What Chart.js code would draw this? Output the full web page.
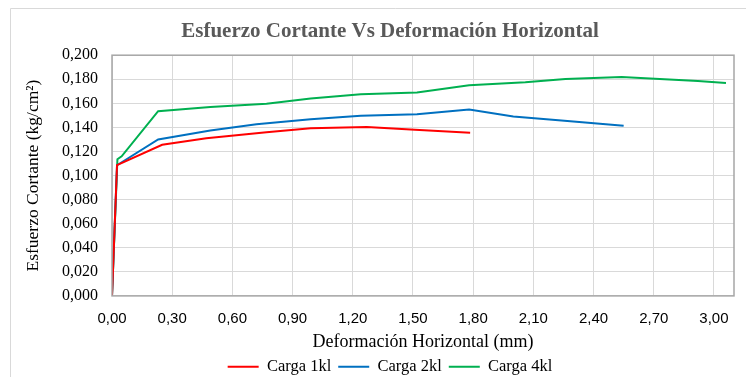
<!DOCTYPE html>
<html>
<head>
<meta charset="utf-8">
<script src="https://cdn.jsdelivr.net/npm/chart.js@4"></script>
<style>
  html, body { margin: 0; padding: 0; background: #fff; overflow: hidden; }
  #wrap { position: absolute; left: 0; top: 0; width: 780px; height: 400px; }
</style>
</head>
<body>
<div id="wrap"><canvas id="grafico" width="780" height="400"></canvas></div>
<script>
const seriesNames = ['Carga 1kl', 'Carga 2kl', 'Carga 4kl'];
const seriesColors = ['#ff0000', '#0070c0', '#00b050'];

const xCarga1 = [0, 0.025, 0.25, 0.47, 0.77, 0.99, 1.27, 1.51, 1.785];
const yCarga1 = [0, 0.1086, 0.1256, 0.131, 0.136, 0.1394, 0.1403, 0.138, 0.1356];

const xCarga2 = [0, 0.025, 0.23, 0.49, 0.72, 0.99, 1.24, 1.52, 1.78, 2.0, 2.24, 2.55];
const yCarga2 = [0, 0.1086, 0.13, 0.1375, 0.1427, 0.1467, 0.1497, 0.151, 0.1548, 0.149, 0.1458, 0.1414];

const xCarga4 = [0, 0.027, 0.048, 0.23, 0.49, 0.77, 0.99, 1.24, 1.52, 1.78, 2.06, 2.26, 2.54, 2.92, 3.06];
const yCarga4 = [0, 0.1135, 0.116, 0.1535, 0.157, 0.1597, 0.164, 0.1675, 0.169, 0.175, 0.1775, 0.1802, 0.1819, 0.1786, 0.177];

function puntos(xs, ys) {
  return xs.map((x, i) => ({ x: x, y: ys[i] }));
}

// marco exterior (solo lados visibles) y borde del area de trazado
const bordes = {
  id: 'bordes',
  beforeDraw(chart) {
    const ctx = chart.ctx;
    ctx.save();
    ctx.strokeStyle = '#d9d9d9';
    ctx.lineWidth = 1;
    ctx.beginPath();
    ctx.moveTo(10.5, 400);
    ctx.lineTo(10.5, 8.5);
    ctx.lineTo(780, 8.5);
    ctx.stroke();
    ctx.restore();
  },
  afterDatasetsDraw(chart) {
    const a = chart.chartArea;
    const ctx = chart.ctx;
    ctx.save();
    ctx.strokeStyle = '#a6a6a6';
    ctx.lineWidth = 1.5;
    ctx.strokeRect(a.left, a.top, a.right - a.left, a.bottom - a.top);
    ctx.restore();
  }
};

const serif = 'Liberation Serif';
const sans = 'Liberation Sans';

new Chart(document.getElementById('grafico'), {
  type: 'scatter',
  data: {
    datasets: [
      { label: seriesNames[0], data: puntos(xCarga1, yCarga1) },
      { label: seriesNames[1], data: puntos(xCarga2, yCarga2) },
      { label: seriesNames[2], data: puntos(xCarga4, yCarga4) }
    ].map((d, i) => Object.assign(d, {
      showLine: true,
      borderColor: seriesColors[i],
      backgroundColor: seriesColors[i],
      borderWidth: 2,
      pointRadius: 0,
      tension: 0
    }))
  },
  options: {
    responsive: false,
    animation: false,
    layout: { padding: { left: 46, right: 46, top: 0, bottom: 15 } },
    plugins: {
      title: {
        display: true,
        text: 'Esfuerzo Cortante Vs Deformación Horizontal',
        color: '#595959',
        font: { family: serif, size: 21, weight: 'bold' },
        padding: { top: 19, bottom: 11 }
      },
      legend: {
        position: 'bottom',
        labels: {
          usePointStyle: true,
          pointStyle: 'line',
          pointStyleWidth: 31,
          boxHeight: 2,
          color: '#000',
          padding: 7,
          font: { family: serif, size: 16.5 }
        }
      },
      tooltip: { enabled: false }
    },
    scales: {
      x: {
        type: 'linear',
        min: 0,
        max: 3.1,
        ticks: {
          stepSize: 0.3,
          includeBounds: false,
          color: '#000',
          font: { family: sans, size: 15 },
          padding: 14,
          maxRotation: 0,
          callback: v => v.toFixed(2).replace('.', ',')
        },
        grid: { color: '#d9d9d9', drawTicks: false },
        border: { display: false },
        title: {
          display: true,
          text: 'Deformación Horizontal (mm)',
          color: '#000',
          font: { family: serif, size: 18 },
          padding: { top: -10, bottom: -2 }
        }
      },
      y: {
        min: 0,
        max: 0.2,
        ticks: {
          stepSize: 0.02,
          color: '#000',
          font: { family: serif, size: 16 },
          padding: 14,
          callback: v => v.toFixed(3).replace('.', ',')
        },
        grid: { color: '#d9d9d9', drawTicks: false },
        border: { display: false },
        title: {
          display: true,
          text: 'Esfuerzo Cortante (kg/cm²)',
          color: '#000',
          font: { family: serif, size: 17.5 },
          padding: { top: -23.5, bottom: 0 }
        },
        afterFit(scale) { scale.width = 66; }
      }
    }
  },
  plugins: [bordes]
});
</script>
</body>
</html>
